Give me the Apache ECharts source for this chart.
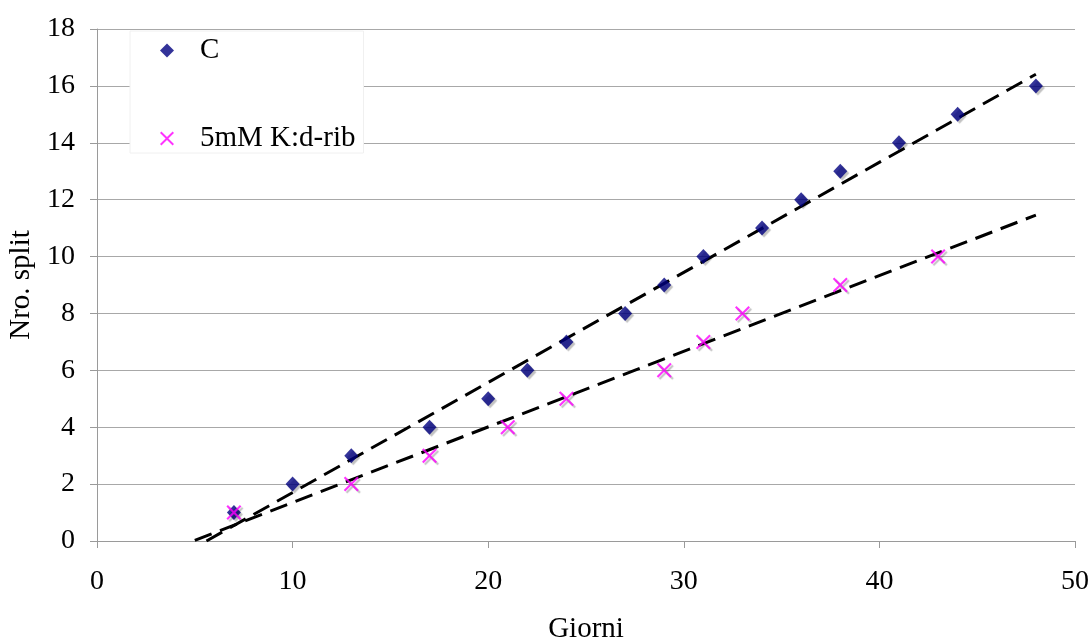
<!DOCTYPE html>
<html><head><meta charset="utf-8">
<script src="https://cdn.jsdelivr.net/npm/echarts@6/dist/echarts.min.js"></script>
<style>html,body{margin:0;padding:0;background:#fff}#c{width:1090px;height:640px}</style>
</head><body><div id="c"></div>
<script>
var cDays = [7,10,13,17,20,22,24,27,29,31,34,36,38,41,44,48];
var cSplits = [1,2,3,4,5,6,7,8,9,10,11,12,13,14,15,16];
var kDays = [7,13,17,21,24,29,31,33,38,43];
var kSplits = [1,2,3,4,5,6,7,8,9,10];
var xTicks = [0,10,20,30,40,50];
var yTicks = [0,2,4,6,8,10,12,14,16,18];
var trendRange = [5,48];

function fit(xs, ys){
  var n=xs.length,sx=0,sy=0,sxy=0,sxx=0;
  for(var i=0;i<n;i++){sx+=xs[i];sy+=ys[i];sxy+=xs[i]*ys[i];sxx+=xs[i]*xs[i];}
  var b=(sxy-sx*sy/n)/(sxx-sx*sx/n), a=sy/n-b*sx/n;
  var x0=trendRange[0], x1=trendRange[1];
  var y0=a+b*x0;
  if(y0<0){x0=-a/b;y0=0;}
  return [[x0,y0],[x1,a+b*x1]];
}
function pairs(xs,ys){return xs.map(function(x,i){return [x,ys[i]];});}

var font='"Liberation Serif","DejaVu Serif",serif';
var shadow={shadowColor:'rgba(0,0,0,0.3)',shadowOffsetX:2,shadowOffsetY:2,shadowBlur:1};
var xPath='path://M0,1L1,0L5,4L9,0L10,1L6,5L10,9L9,10L5,6L1,10L0,9L4,5Z';
var trendStyle={color:'#000',width:3,type:[18,9]};

var chart=echarts.init(document.getElementById('c'),null,{renderer:'canvas'});
chart.setOption({
  backgroundColor:'#fff',
  animation:false,
  grid:{left:97,right:15,top:29,bottom:99,containLabel:false,outerBoundsMode:'none'},
  legend:{
    data:['C','5mM K:d-rib'],
    orient:'vertical',left:130,top:31,
    backgroundColor:'#fff',borderColor:'#f0f0f0',borderWidth:1,
    padding:[5,8,0,30],itemGap:59,itemWidth:14,itemHeight:14,
    textStyle:{fontFamily:font,fontSize:29,color:'#000',padding:[0,0,0,21]}
  },
  xAxis:{
    type:'value',min:0,max:50,interval:10,
    name:'Giorni',nameLocation:'middle',nameGap:74,
    nameTextStyle:{fontFamily:font,fontSize:29,color:'#000'},
    axisLine:{show:true,lineStyle:{color:'#9a9a9a',width:1}},
    axisTick:{show:true,inside:false,length:7,lineStyle:{color:'#9a9a9a'}},
    axisLabel:{fontFamily:font,fontSize:28,color:'#000',margin:27},
    splitLine:{show:false}
  },
  yAxis:{
    type:'value',min:0,max:18,interval:2,
    name:'Nro. split',nameLocation:'middle',nameGap:55,
    nameTextStyle:{fontFamily:font,fontSize:29,color:'#000'},
    axisLine:{show:true,lineStyle:{color:'#9a9a9a',width:1}},
    axisTick:{show:true,inside:false,length:7,lineStyle:{color:'#9a9a9a'}},
    axisLabel:{fontFamily:font,fontSize:28,color:'#000',margin:22},
    splitLine:{show:true,lineStyle:{color:'#a8a8a8',width:1}}
  },
  series:[
    {name:'C trend',type:'line',data:fit(cDays,cSplits),symbol:'none',lineStyle:trendStyle,z:3,silent:true},
    {name:'5mM trend',type:'line',data:fit(kDays,kSplits),symbol:'none',lineStyle:trendStyle,z:3,silent:true},
    {name:'C',type:'scatter',data:pairs(cDays,cSplits),symbol:'diamond',symbolSize:[14,15],
      itemStyle:Object.assign({color:'#000080'},shadow),z:4},
    {name:'5mM K:d-rib',type:'scatter',data:pairs(kDays,kSplits),symbol:xPath,symbolSize:15,
      itemStyle:Object.assign({color:'#ff00ff'},shadow),z:5}
  ]
});
</script></body></html>
